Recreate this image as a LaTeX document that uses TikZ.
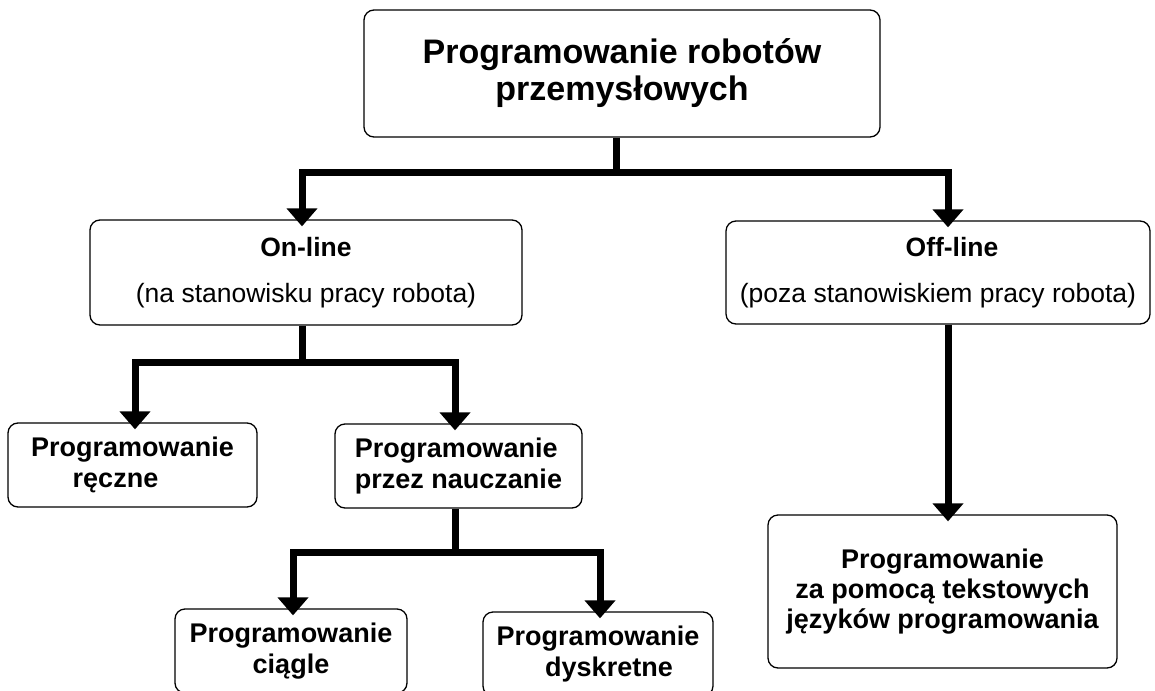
\documentclass[tikz,border=0pt]{standalone}
\usepackage{fontspec}
\setmainfont{Liberation Sans}
\usetikzlibrary{arrows.meta}
\begin{document}
\begin{tikzpicture}[x=1pt,y=-1pt,
  box/.style={draw, line width=1.3pt, rounded corners=10pt, inner sep=0pt, fill=white},
  bigtxt/.style={font=\fontsize{34}{37}\selectfont\bfseries, align=center},
  midtxt/.style={font=\fontsize{26.5}{29}\selectfont, align=center},
  leaftxt/.style={font=\fontsize{27}{31}\selectfont\bfseries, align=center},
  conn/.style={line width=7pt},
  arr/.style={line width=7pt, -{Triangle[width=30pt,length=18pt]}},
]
\clip (0,0) rectangle (1155,690);
\fill[white] (0,0) rectangle (1155,690);

\node[box, bigtxt, minimum width=516pt, minimum height=127pt] (top) at (622,73.5) {Programowanie robotów\\przemysłowych};
\node[box, midtxt, minimum width=432pt, minimum height=105pt] (online) at (306,272.5) {\textbf{On-line}\\[17pt](na stanowisku pracy robota)};
\node[box, midtxt, minimum width=424pt, minimum height=103pt] (offline) at (938,272.5) {\hspace*{28pt}\textbf{Off-line}\\[17pt](poza stanowiskiem pracy robota)};
\node[box, leaftxt, minimum width=249pt, minimum height=84pt] (reczne) at (132.5,465) {Programowanie\\ręczne\hspace*{34pt}};
\node[box, leaftxt, align=left, minimum width=247pt, minimum height=84pt] (nauczanie) at (458.5,466) {Programowanie\\przez nauczanie};
\node[box, leaftxt, minimum width=232pt, minimum height=84pt] (ciagle) at (291,651) {Programowanie\\ciągle};
\node[box, leaftxt, minimum width=230pt, minimum height=84pt] (dyskretne) at (598,654) {Programowanie\\\hspace*{22pt}dyskretne};
\node[box, font=\fontsize{27}{30}\selectfont\bfseries, align=center, minimum width=349pt, minimum height=153pt] (offbottom) at (942.5,591.5) {Programowanie\\za pomocą tekstowych\\języków programowania};

\coordinate (j1) at (616,172);
\draw[conn] ([xshift=-6pt]top.south) -- (j1);
\draw[arr] (j1) -| ([xshift=-4pt,yshift=-7pt]online.north);
\draw[arr] (j1) -| ([xshift=10pt,yshift=-7pt]offline.north);

\coordinate (j2) at (302,362);
\draw[conn] ([xshift=-4pt]online.south) -- (j2);
\draw[arr] (j2) -| ([xshift=2.5pt,yshift=-7pt]reczne.north);
\draw[arr] (j2) -| ([xshift=-3.5pt,yshift=-7pt]nauczanie.north);

\coordinate (j3) at (455,552);
\draw[conn] ([xshift=-3.5pt]nauczanie.south) -- (j3);
\draw[arr] (j3) -| ([xshift=2pt,yshift=-7pt]ciagle.north);
\draw[arr] (j3) -| ([xshift=2pt,yshift=-7pt]dyskretne.north);

\draw[arr] ([xshift=10pt]offline.south) -- ([xshift=5.5pt,yshift=-7pt]offbottom.north);
\end{tikzpicture}
\end{document}
